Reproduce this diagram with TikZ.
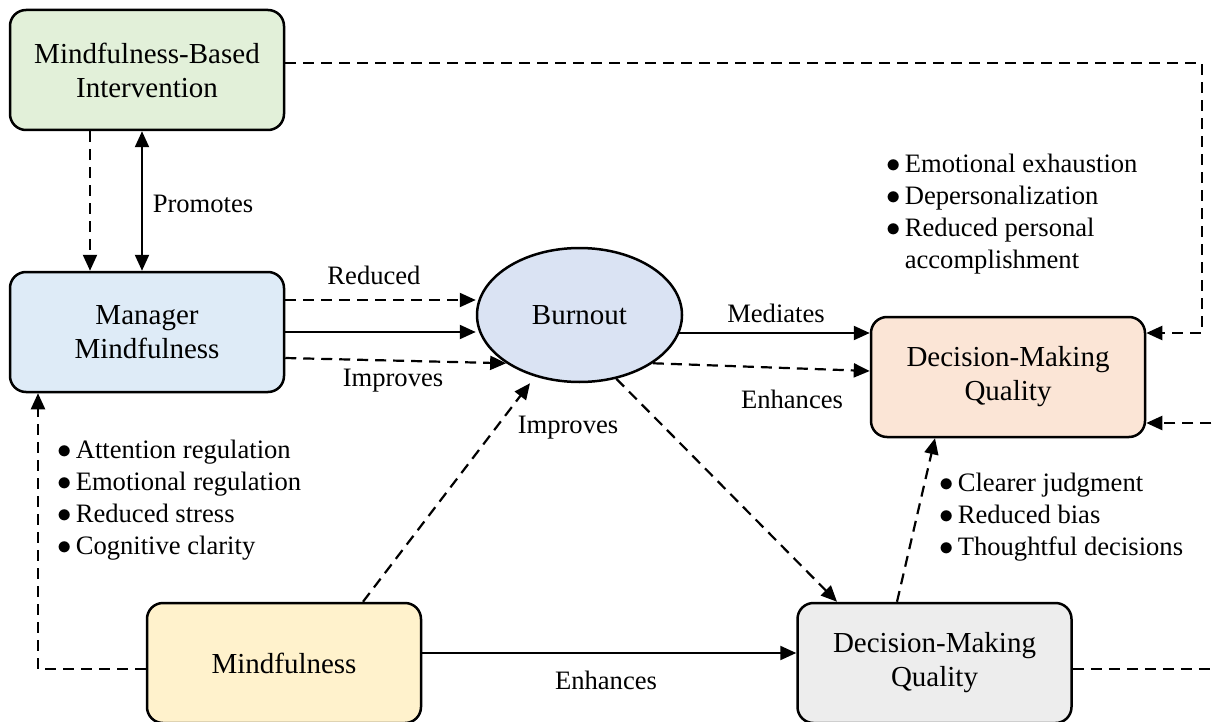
\documentclass[tikz,border=0pt]{standalone}
\usepackage{fontspec}
\setmainfont{Liberation Serif}
\usetikzlibrary{positioning,arrows.meta,shapes.geometric}

\definecolor{mbigreen}{HTML}{E2F0D9}
\definecolor{mmblue}{HTML}{DEEBF7}
\definecolor{burnblue}{HTML}{DAE3F3}
\definecolor{dmqpeach}{HTML}{FBE5D6}
\definecolor{mindyellow}{HTML}{FFF2CC}
\definecolor{dmqgray}{HTML}{EDEDED}
\newcommand{\lbul}{$\bullet$\hspace{2pt}}

\begin{document}
\begin{tikzpicture}[x=0.5pt,y=-0.5pt,
        >={Triangle[length=8pt,width=7pt]},
        box/.style={draw,line width=1.25pt,rounded corners=8pt,minimum width=137pt,minimum height=60pt,
                    align=center,font=\fontsize{14.5}{17}\selectfont},
        blob/.style={ellipse,draw,line width=1.25pt,minimum width=102.5pt,minimum height=67pt,inner sep=0pt,
                    font=\fontsize{14.5}{17}\selectfont},
        lbl/.style={inner sep=0pt,font=\fontsize{13.3}{16}\selectfont},
        blist/.style={lbl,align=left,anchor=west},
        link/.style={line width=1.1pt,->},
        dlink/.style={link,dash pattern=on 5.5pt off 3.5pt}]
            \useasboundingbox (0,0) rectangle (1215,722);
            \clip (0,0) rectangle (1215,722);
            \node[box,fill=mbigreen](mbi) at (147,70){Mindfulness-Based\\Intervention};
            \node[box,fill=mmblue](mm) at (147,332){Manager\\Mindfulness};
            \node[blob,fill=burnblue](burn) at (579.5,315){Burnout};
            \node[box,fill=dmqpeach](dmq) at (1008,377){Decision-Making\\Quality};
            \node[box,fill=mindyellow](mind) at (284,663){Mindfulness};
            \node[box,fill=dmqgray](dmqb) at (934.5,663){Decision-Making\\Quality};
            \node[blist](mmlist) at (57,500){\lbul Attention regulation\\ \lbul Emotional regulation\\
                \lbul Reduced stress\\ \lbul Cognitive clarity};
            \node[blist](burnlist) at (886,214){\lbul Emotional exhaustion\\ \lbul Depersonalization\\
                \lbul Reduced personal\\ \phantom{\lbul}accomplishment};
            \node[blist](dmqlist) at (939,517){\lbul Clearer judgment\\ \lbul Reduced bias\\
                \lbul Thoughtful decisions};
            \node[lbl](promotes) at (203,204){Promotes};
            \node[lbl](reduced) at (374,275){Reduced};
            \node[lbl](improves) at (393,381){Improves};
            \node[lbl](mediates) at (776,313){Mediates};
            \node[lbl](enhances) at (792,399){Enhances};
            \node[lbl](improvesb) at (568,428){Improves};
            \node[lbl](enhancesb) at (606,680){Enhances};
            \coordinate (topright) at (1202,63);
            \coordinate (botright) at (1235,669);
            \path[dlink]([xshift=-28.5pt]mbi.south) edge ([xshift=-28.5pt]mm.north)
                        ([yshift=16pt]mm.east) edge ([yshift=16pt]mm.east -| burn.west)
                        ([yshift=-13pt]mm.east) edge (burn.south west)
                        (burn.south east) edge ([yshift=3pt]dmq.west)
                        (burn.-60) edge ([xshift=-48.75pt]dmqb.north)
                        ([xshift=39.5pt]mind.north) edge ([xshift=-24.75pt]burn.south)
                        ([xshift=-18.75pt]dmqb.north) edge ([xshift=-36.5pt]dmq.south);
            \path[link](mm.east) edge (mm.east -| burn.west)
                        ([xshift=-2pt,yshift=-9pt]burn.east) edge ([yshift=22pt]dmq.west)
                        ([yshift=5pt]mind.east) edge ([yshift=5pt]dmqb.west);
            \draw[link,<->]([xshift=-2.5pt]mbi.south) -- ([xshift=-2.5pt]mm.north);
            \draw[dlink]([yshift=-3pt]mind.west) -| ([xshift=-54.5pt]mm.south);
            \draw[dlink]([yshift=3.5pt]mbi.east) -- (topright) |- ([yshift=22pt]dmq.east);
            \draw[dlink]([yshift=-3pt]dmqb.east) -- (botright) |- ([yshift=-23pt]dmq.east);
        \end{tikzpicture}
\end{document}
